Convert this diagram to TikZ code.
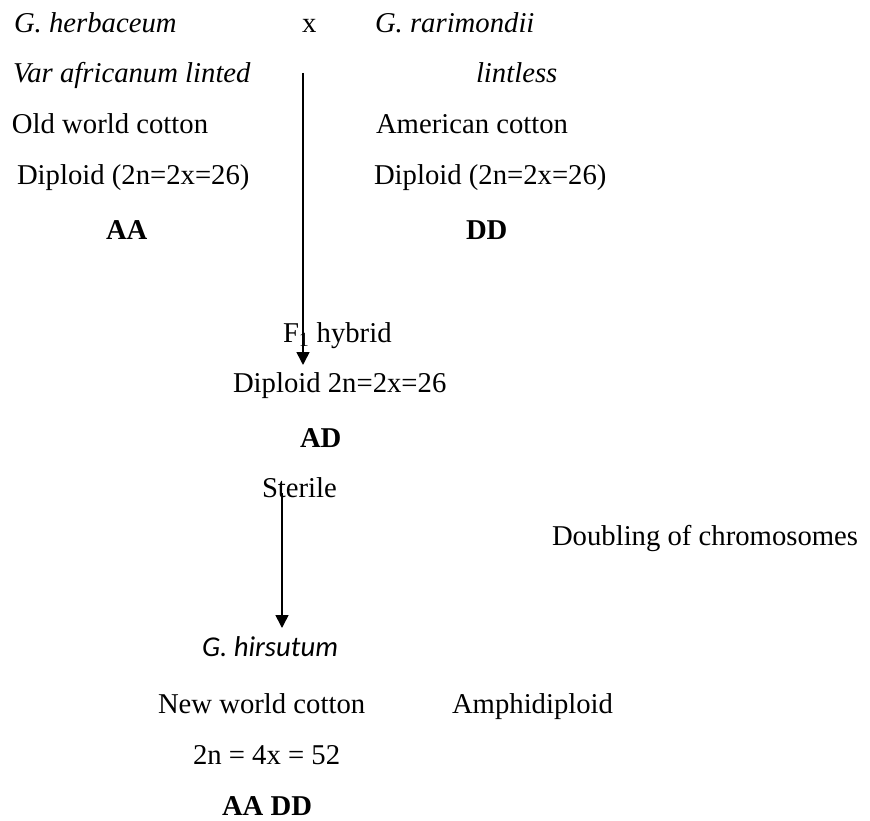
\documentclass[tikz,border=0pt]{standalone}
\usepackage{fontspec}
\setmainfont{Liberation Serif}
\newfontfamily\calfont{Carlito}
\usetikzlibrary{arrows.meta}
\begin{document}
\begin{tikzpicture}[x=1pt,y=-1pt,
  lbl/.style={anchor=base west,inner sep=0pt,outer sep=0pt,font=\fontsize{28.7}{34}\selectfont},
  ilbl/.style={lbl,font=\fontsize{28.7}{34}\selectfont\itshape},
  blbl/.style={lbl,font=\fontsize{28.7}{34}\selectfont\bfseries},
  clbl/.style={lbl,font=\fontsize{28.7}{34}\selectfont\calfont\itshape},
  arr/.style={line width=1.6pt,-{Triangle[length=13pt,width=13pt]}}]
\useasboundingbox (0,0) rectangle (870,821);
% left parent
\node[ilbl] (herb) at (14,33) {G. herbaceum};
\node[ilbl] (afr) at (13,83) {Var africanum linted};
\node[lbl] (oldw) at (12,134) {Old world cotton};
\node[lbl] (dipl) at (17,185) {Diploid (2n=2x=26)};
\node[blbl] (aa) at (106,240) {AA};
% cross
\node[lbl] (cross) at (302,33) {x};
% right parent
\node[ilbl] (rari) at (375,33) {G. rarimondii};
\node[ilbl] (lintl) at (476,83) {lintless};
\node[lbl] (amer) at (376,134) {American cotton};
\node[lbl] (dipr) at (374,185) {Diploid (2n=2x=26)};
\node[blbl] (dd) at (466,240) {DD};
% F1
\node[lbl] (f1) at (283,342) {F\textsubscript{1} hybrid};
\node[lbl] (dipf) at (233,392) {Diploid 2n=2x=26};
\node[blbl] (ad) at (300,447) {AD};
\node[lbl] (ster) at (262,497) {Sterile};
\node[lbl] (doub) at (552,545) {Doubling of chromosomes};
% amphidiploid
\node[clbl] (hirs) at (202,656) {G. hirsutum};
\node[lbl] (neww) at (158,713) {New world cotton};
\node[lbl] (amph) at (452,713) {Amphidiploid};
\node[lbl] (chr) at (193,764) {2n = 4x = 52};
\node[blbl] (aadd) at (222,815) {AA DD};
% connectors
\coordinate (a1s) at (303,73);
\coordinate (a1e) at (303,365);
\coordinate (a2s) at (282,493);
\coordinate (a2e) at (282,628);
\draw[arr] (a1s) -- (a1e);
\draw[arr] (a2s) -- (a2e);
\end{tikzpicture}
\end{document}
